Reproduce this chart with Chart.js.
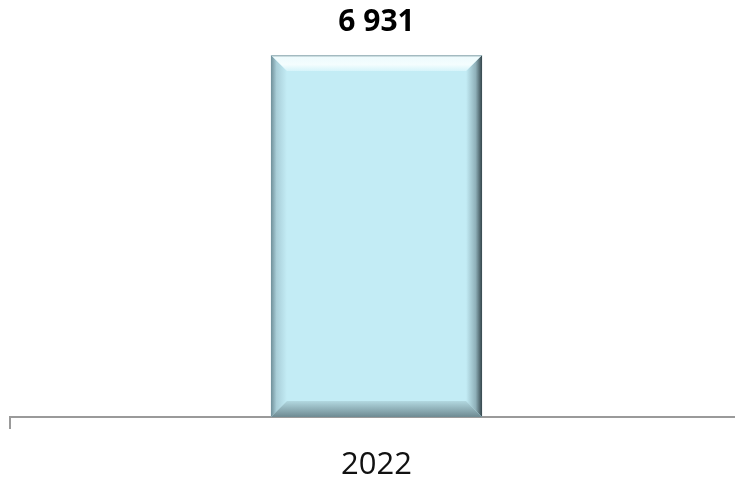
<!DOCTYPE html>
<html>
<head>
<meta charset="utf-8">
<script src="https://cdn.jsdelivr.net/npm/chart.js@4/dist/chart.umd.min.js"></script>
<style>
  html, body { margin: 0; padding: 0; background: #fff; overflow: hidden; }
  #wrap { position: relative; width: 743px; height: 478px; }
</style>
</head>
<body>
<div id="wrap"><canvas id="chart"></canvas></div>
<script>
// data
const categories = ['2022'];
const values = [6931];

const BAR_COLOR = '#C3ECF5';

// "6931" -> "6 931"
function formatSpace(v) {
    return String(v).replace(/\B(?=(\d{3})+(?!\d))/g, ' ');
}

// bevelled edges drawn on top of each bar, using the bar element geometry
const bevelPlugin = {
    id: 'bevel',
    afterDatasetsDraw(chart) {
        const ctx = chart.ctx;
        chart.getDatasetMeta(0).data.forEach(bar => {
            const { x, y, base, width } = bar.getProps(['x', 'y', 'base', 'width'], true);
            const l = x - width / 2, r = x + width / 2, t = y, b = base, d = 16;
            ctx.save();
            // left
            let g = ctx.createLinearGradient(l, 0, l + d, 0);
            g.addColorStop(0, '#6F8F99');
            g.addColorStop(0.35, '#A9CED8');
            g.addColorStop(1, BAR_COLOR);
            ctx.fillStyle = g;
            ctx.beginPath(); ctx.moveTo(l, t); ctx.lineTo(l + d, t + d); ctx.lineTo(l + d, b - d); ctx.lineTo(l, b); ctx.closePath(); ctx.fill();
            // right
            g = ctx.createLinearGradient(r - d, 0, r, 0);
            g.addColorStop(0, BAR_COLOR);
            g.addColorStop(0.6, '#8FB0B9');
            g.addColorStop(1, '#34454B');
            ctx.fillStyle = g;
            ctx.beginPath(); ctx.moveTo(r, t); ctx.lineTo(r, b); ctx.lineTo(r - d, b - d); ctx.lineTo(r - d, t + d); ctx.closePath(); ctx.fill();
            // top
            g = ctx.createLinearGradient(0, t, 0, t + d);
            g.addColorStop(0, '#8FA9B0');
            g.addColorStop(0.15, '#EEFBFD');
            g.addColorStop(0.6, '#F4FDFE');
            g.addColorStop(1, '#D6F4FA');
            ctx.fillStyle = g;
            ctx.beginPath(); ctx.moveTo(l, t); ctx.lineTo(r, t); ctx.lineTo(r - d, t + d); ctx.lineTo(l + d, t + d); ctx.closePath(); ctx.fill();
            // bottom
            g = ctx.createLinearGradient(0, b - d, 0, b);
            g.addColorStop(0, '#B2D8E0');
            g.addColorStop(1, '#6E8A92');
            ctx.fillStyle = g;
            ctx.beginPath(); ctx.moveTo(l, b); ctx.lineTo(l + d, b - d); ctx.lineTo(r - d, b - d); ctx.lineTo(r, b); ctx.closePath(); ctx.fill();
            ctx.restore();
        });
    }
};

// value label above each bar
const valueLabelPlugin = {
    id: 'valueLabel',
    afterDatasetsDraw(chart) {
        const ctx = chart.ctx;
        ctx.save();
        ctx.font = 'bold 30px "Open Sans", sans-serif';
        ctx.fillStyle = '#000';
        ctx.textAlign = 'center';
        ctx.textBaseline = 'middle';
        chart.getDatasetMeta(0).data.forEach((bar, i) => {
            ctx.fillText(formatSpace(values[i]), bar.x, bar.y - 33);
        });
        ctx.restore();
    }
};

new Chart(document.getElementById('chart'), {
    type: 'bar',
    data: {
        labels: categories,
        datasets: [{ data: values, backgroundColor: BAR_COLOR, borderWidth: 0, categoryPercentage: 1, barPercentage: 0.288 }]
    },
    options: {
        responsive: true,
        maintainAspectRatio: false,
        animation: false,
        layout: { padding: { top: 55, left: 10, right: 0, bottom: -24 } },
        plugins: { legend: { display: false }, tooltip: { enabled: false } },
        scales: {
            x: {
                grid: { display: true, drawOnChartArea: false, color: '#9A9A9A', lineWidth: 2, tickLength: 12, offset: true },
                border: { display: true, color: '#9A9A9A', width: 2 },
                ticks: { color: '#111', padding: 21, font: { family: '"Open Sans", sans-serif', size: 31, lineHeight: 1 } }
            },
            y: { display: false, min: 0, max: 6931 }
        }
    },
    plugins: [bevelPlugin, valueLabelPlugin]
});
</script>
</body>
</html>
